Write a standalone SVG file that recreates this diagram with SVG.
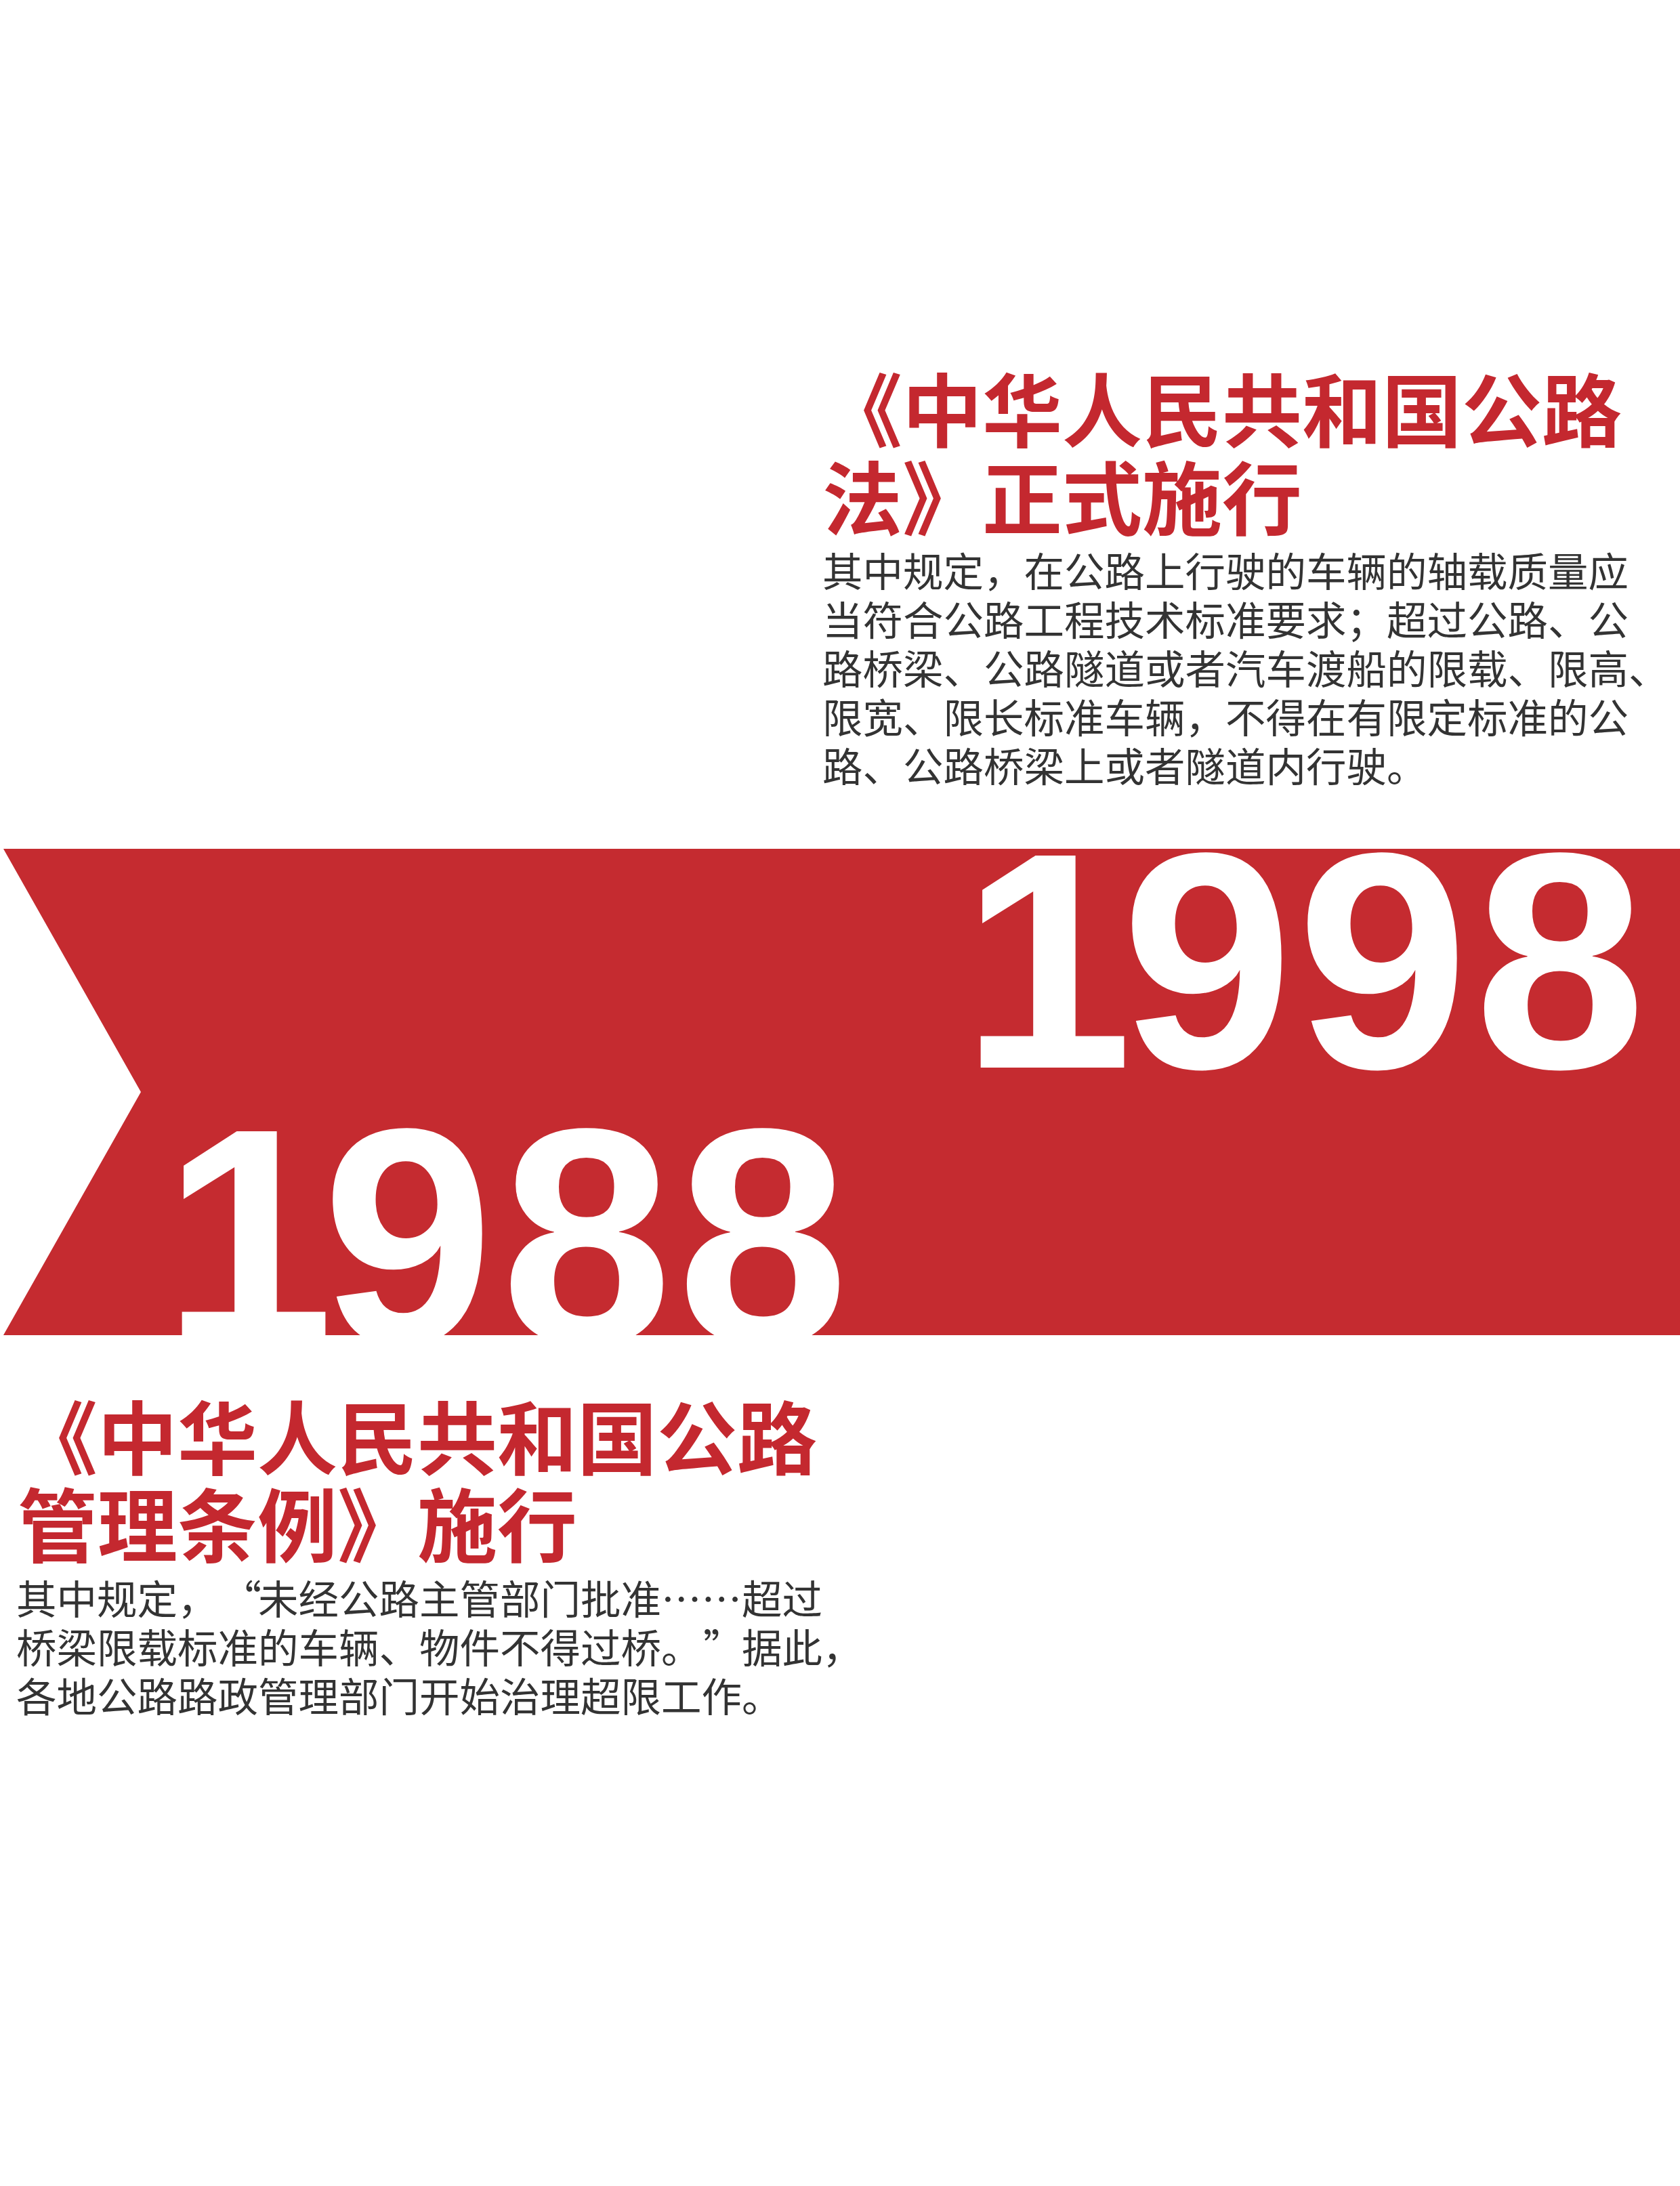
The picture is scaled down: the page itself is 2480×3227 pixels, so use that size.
<svg xmlns="http://www.w3.org/2000/svg" width="2480" height="3227" viewBox="0 0 2480 3227">
<style>
.title{font-family:"Noto Sans CJK SC","Noto Sans CJK TC",sans-serif;font-weight:700;font-size:118px;fill:#C4282F}
.body{font-family:"Noto Sans CJK SC","Noto Sans CJK TC",sans-serif;font-weight:400;font-size:59.5px;fill:#333333}
.year{font-family:"Liberation Sans",Arial,sans-serif;font-weight:700;font-size:455px;fill:#FFFFFF}
.mid{text-anchor:middle}
</style>
<defs>
<clipPath id="bandClip"><polygon points="5,1253 2480,1253 2480,1971 5,1971 208,1612"/></clipPath>
</defs>
<rect x="0" y="0" width="2480" height="3227" fill="#FFFFFF"/>
<g id="band">
<polygon points="5,1253 2480,1253 2480,1971 5,1971 208,1612" fill="#C52B30"/>
<g clip-path="url(#bandClip)">
<g id="year1998">
<text class="year" transform="translate(1419,1576) scale(1.0,1)" x="0" y="0">1</text>
<text class="year mid" transform="translate(1782,1576) scale(1.0,1)" x="0" y="0">9</text>
<text class="year mid" transform="translate(2041,1576) scale(1.0,1)" x="0" y="0">9</text>
<text class="year mid" transform="translate(2303,1576) scale(1.0,1)" x="0" y="0">8</text>
</g>
<g id="year1988">
<text class="year" transform="translate(240,1983) scale(1.0,1)" x="0" y="0">1</text>
<text class="year mid" transform="translate(602,1983) scale(1.0,1)" x="0" y="0">9</text>
<text class="year mid" transform="translate(866,1983) scale(1.0,1)" x="0" y="0">8</text>
<text class="year mid" transform="translate(1126,1983) scale(1.0,1)" x="0" y="0">8</text>
</g>
</g>
</g>
<g id="event1998">
<text class="title" x="1214" y="651">《中华人民共和国公路</text>
<text class="title" x="1214" y="781">法》正式施行</text>
<text class="body" x="1214" y="866">其中规定，在公路上行驶的车辆的轴载质量应</text>
<text class="body" x="1214" y="938">当符合公路工程技术标准要求；超过公路、公</text>
<text class="body" x="1214" y="1010">路桥梁、公路隧道或者汽车渡船的限载、限高、</text>
<text class="body" x="1214" y="1082">限宽、限长标准车辆，不得在有限定标准的公</text>
<text class="body" x="1214" y="1154">路、公路桥梁上或者隧道内行驶。</text>
</g>
<g id="event1988">
<text class="title" x="26" y="2168">《中华人民共和国公路</text>
<text class="title" x="26" y="2297">管理条例》施行</text>
<text class="body" y="2383"><tspan x="24">其中规定，</tspan><tspan x="386" text-anchor="end">“</tspan><tspan x="381">未经公路主管部门批准……</tspan><tspan x="1095">超过</tspan></text>
<text class="body" y="2455"><tspan x="24">桥梁限载标准的车辆、物件不得过桥。</tspan><tspan x="1038">”</tspan><tspan x="1095">据此，</tspan></text>
<text class="body" x="24" y="2527">各地公路路政管理部门开始治理超限工作。</text>
</g>
<g id="connectors"/>
</svg>
